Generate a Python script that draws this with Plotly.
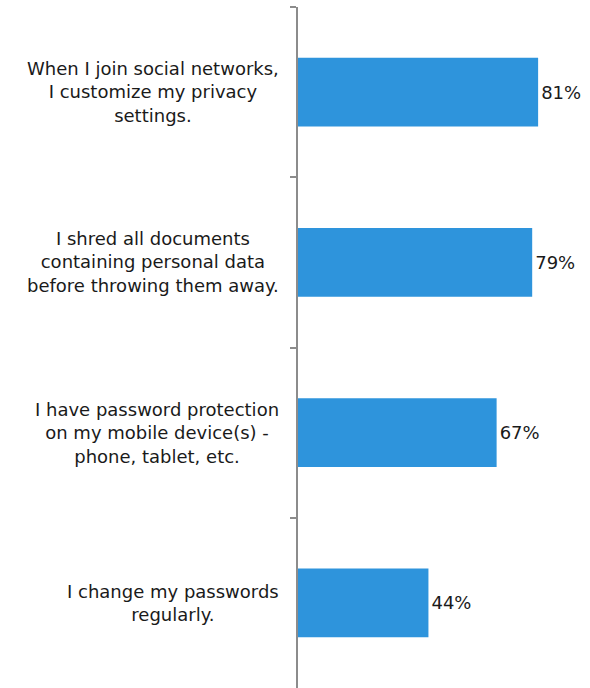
import plotly.graph_objects as go

categories = [
    "When I join social networks,<br>I customize my privacy<br>settings.",
    "I shred all documents<br>containing personal data<br>before throwing them away.",
    "I have password protection<br>on my mobile device(s) -<br>phone, tablet, etc.",
    "I change my passwords<br>regularly.",
]
values = [81, 79, 67, 44]
value_labels = ["81%", "79%", "67%", "44%"]

FONT = "DejaVu Sans, Verdana, sans-serif"

fig = go.Figure()
fig.add_trace(go.Bar(
    x=values,
    y=categories,
    orientation="h",
    marker=dict(color="#2E94DC", line=dict(width=0)),
    width=0.405,
    text=value_labels,
    textposition="outside",
    textfont=dict(family=FONT, size=18, color="#1a1a1a"),
    cliponaxis=False,
    hoverinfo="skip",
))

for c in categories:
    fig.add_annotation(
        x=0, xref="paper", y=c, yref="y",
        text=c, showarrow=False, xanchor="right", yanchor="middle",
        xshift=-17, align="center",
        font=dict(family=FONT, size=18, color="#1a1a1a"),
    )

fig.update_layout(
    width=590, height=688,
    margin=dict(l=298, r=0, t=7, b=0),
    paper_bgcolor="white", plot_bgcolor="white",
    showlegend=False,
    bargap=0.6,
    xaxis=dict(range=[0, 98.5], visible=False, fixedrange=True),
    yaxis=dict(
        categoryorder="array", categoryarray=categories,
        autorange="reversed",
        showticklabels=False,
        ticks="outside", ticklen=6, tickwidth=1.5, tickcolor="#8c8c8c",
        tickson="boundaries",
        showline=True, linecolor="#8c8c8c", linewidth=1.5,
        showgrid=False, zeroline=False, fixedrange=True,
    ),
)

fig.write_html("out.html")
